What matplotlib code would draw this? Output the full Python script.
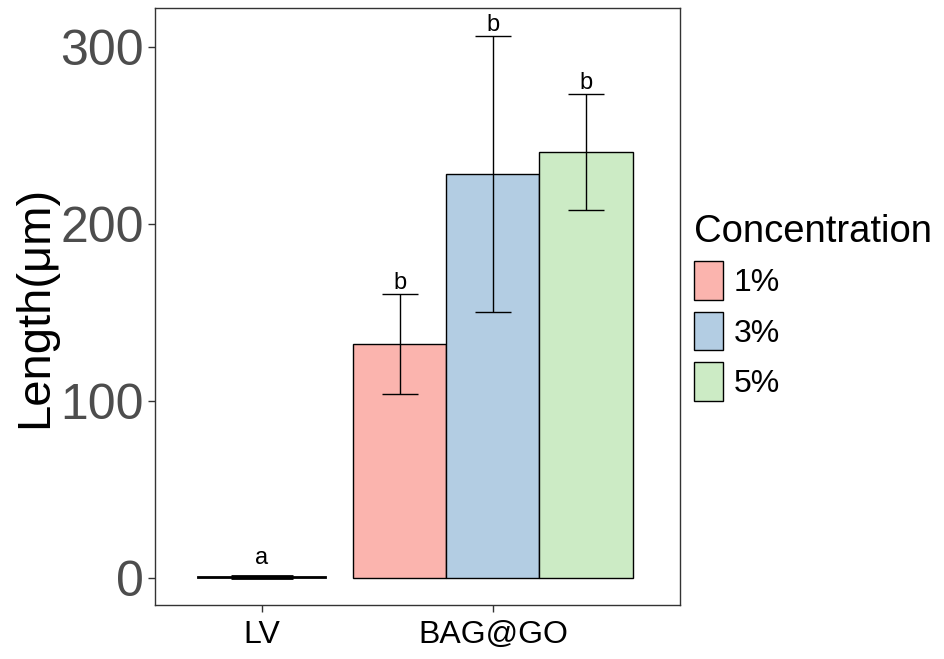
import matplotlib.pyplot as plt
from matplotlib.patches import Patch

plt.rcParams['font.family'] = ['Liberation Sans', 'DejaVu Sans']

# mean length and sd per group
groups = ["LV", "BAG@GO"]
concentrations = ["1%", "3%", "5%"]
colors = ["#FBB4AE", "#B3CDE3", "#CCEBC5"]

lv_mean = 0.5
lv_sd = 0.6
bag_mean = [132.2, 228.3, 240.7]
bag_sd = [28.3, 78.0, 33.0]
letters_lv = "a"
letters_bag = ["b", "b", "b"]

fig = plt.figure(figsize=(9.44, 6.59), dpi=100)
ax = fig.add_axes([0.1642, 0.0819, 0.5561, 0.9059])

# LV group: single wide bar
ax.bar(1, lv_mean, width=0.554, color="white", edgecolor="black", linewidth=1.3)
ax.errorbar(1, lv_mean, yerr=lv_sd, fmt="none", ecolor="black",
            elinewidth=1.0, capsize=22, capthick=2.0)
ax.text(1, lv_mean + lv_sd + 4, letters_lv, ha="center", va="bottom", fontsize=17)

# BAG@GO group: dodged bars per concentration
width = 0.403
for i, (m, s, c, lab) in enumerate(zip(bag_mean, bag_sd, colors, letters_bag)):
    xpos = 2 + (i - 1) * width
    ax.bar(xpos, m, width=width, color=c, edgecolor="black", linewidth=1.0)
    ax.errorbar(xpos, m, yerr=s, fmt="none", ecolor="black",
                elinewidth=1.0, capsize=13, capthick=1.0)
    ax.text(xpos, m + s, lab, ha="center", va="bottom", fontsize=17)

ax.set_xlim(0.537, 2.81)
ax.set_ylim(-15.3, 322)
ax.set_xticks([1, 2])
ax.set_xticklabels(groups, fontsize=23, color="black")
ax.set_yticks([0, 100, 200, 300])
ax.set_yticklabels(["0", "100", "200", "300"], fontsize=36, color="#4D4D4D")
ax.tick_params(axis="both", length=5, width=1, color="#333333")
ax.tick_params(axis="x", pad=6)
ax.tick_params(axis="y", pad=3)
ax.set_ylabel("Length(μm)", fontsize=34, labelpad=2)
for sp in ax.spines.values():
    sp.set_color("#333333")
    sp.set_linewidth(1.0)

handles = [Patch(facecolor=c, edgecolor="black", linewidth=1.0) for c in colors]
leg = fig.legend(handles, concentrations, title="Concentration",
                 loc="upper left", bbox_to_anchor=(0.735, 0.675),
                 frameon=False, fontsize=23, title_fontsize=27.5,
                 handlelength=0.9, handleheight=1.5, handletextpad=0.35,
                 labelspacing=0.35, borderaxespad=0, borderpad=0)
leg._legend_box.align = "left"

fig.savefig("out.png", dpi=100)
